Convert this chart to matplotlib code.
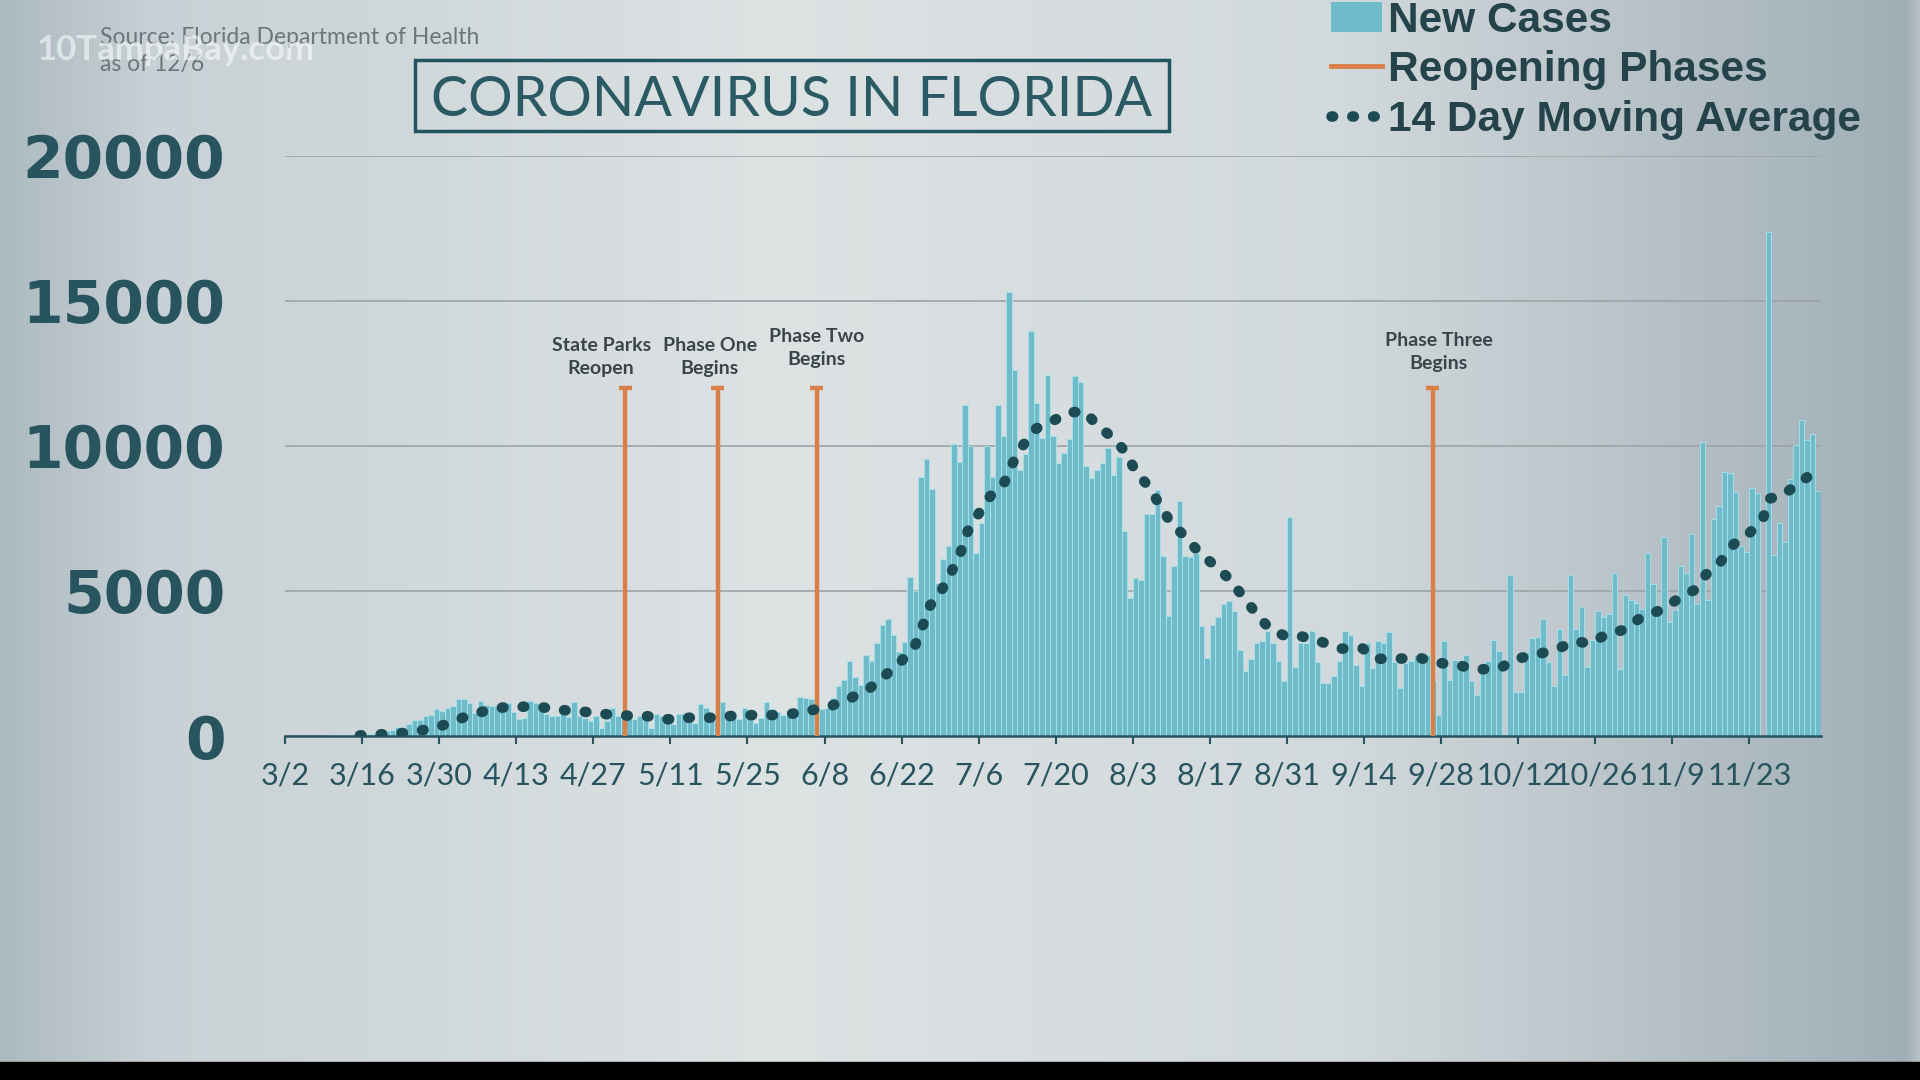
import numpy as np
import matplotlib
matplotlib.use("Agg")
import matplotlib.pyplot as plt
from matplotlib.lines import Line2D
from matplotlib.patches import Patch, Rectangle

# daily new cases, one bar per day, first bar sits at the 3/2 tick
new_cases = [
    0, 0, 2, 3, 5, 15, 10, 20, 25, 30, 40, 45, 50, 60, 40, 60, 80, 115, 160, 195,
    310, 250, 425, 560, 540, 690, 740, 940, 860, 970, 1050, 1290, 1290, 1140, 790, 1200, 1060, 1040, 1020, 1120,
    1120, 830, 580, 620, 1200, 1150, 900, 760, 700, 690, 750, 650, 1170, 690, 630, 520, 690, 290, 520, 980,
    690, 570, 570, 570, 690, 750, 290, 750, 690, 520, 430, 750, 750, 750, 460, 1110, 980, 570, 520, 1170,
    800, 750, 570, 950, 860, 460, 610, 1170, 920, 840, 720, 690, 920, 1360, 1320, 1260, 1210, 920, 980, 1320,
    1710, 1920, 2580, 2035, 1770, 2790, 2580, 3220, 3830, 4040, 3480, 2900, 3240, 5490, 5000, 8940, 9550, 8520, 5260, 6100,
    6560, 10070, 9440, 11410, 9990, 6300, 7330, 9990, 8920, 11410, 10340, 15300, 12620, 9180, 9730, 13940, 11460, 10280, 12440, 10340,
    9410, 9760, 10220, 12390, 12180, 9300, 8890, 9180, 9410, 9910, 8980, 9620, 7080, 4760, 5430, 5370, 7640, 7640, 8460, 6190,
    4150, 5840, 8110, 6190, 6150, 6300, 3780, 2700, 3830, 4090, 4560, 4650, 4290, 2950, 2230, 2640, 3220, 3260, 3630, 3200,
    2580, 1880, 7550, 2370, 3220, 3200, 3630, 2550, 1830, 1830, 2080, 2580, 3610, 3480, 2430, 1710, 3220, 2330, 3260, 3200,
    3570, 2550, 1650, 2500, 2600, 2790, 2810, 2790, 1900, 720, 3270, 1920, 2630, 2590, 2800, 1880, 1400, 2440, 2590, 3320,
    2920, 0, 5540, 1520, 1520, 2900, 3360, 3410, 4020, 2550, 1720, 3680, 2110, 5540, 3670, 4450, 2380, 3300, 4300, 4100,
    4190, 5600, 2320, 4870, 4680, 4590, 4390, 6290, 5230, 4270, 6870, 3930, 4350, 5860, 5600, 6960, 4560, 10130, 4680, 7470,
    7930, 9090, 9070, 8400, 6550, 6330, 8530, 8380, 0, 17360, 6250, 7340, 6680, 8850, 10040, 10870, 10190, 10420, 8440,
]

tick_labels = ["3/2", "3/16", "3/30", "4/13", "4/27", "5/11", "5/25", "6/8", "6/22", "7/6",
               "7/20", "8/3", "8/17", "8/31", "9/14", "9/28", "10/12", "10/26", "11/9", "11/23"]

# 14 day moving average (day position, value)
ma_day = [13.6, 17.6, 21.3, 25.0, 28.7, 32.3, 35.9, 39.5, 43.3, 47.0,
          50.9, 54.6, 58.4, 62.3, 65.9, 69.6, 73.4, 77.2, 81.0, 84.7,
          88.5, 92.2, 96.0, 99.5, 103.0, 106.3, 109.2, 112.0, 114.5, 115.9,
          117.2, 119.4, 121.2, 122.8, 124.0, 126.0, 128.1, 130.7, 132.2, 134.1,
          136.5, 139.3, 142.4, 145.3, 147.5, 150.4, 152.8, 154.5, 157.0, 158.9,
          160.9, 163.5, 166.0, 168.9, 171.6, 173.9, 176.2, 178.7, 181.8, 184.7,
          188.3, 191.9, 195.7, 198.3, 202.1, 205.9, 209.6, 213.2, 216.9, 220.7,
          223.7, 227.5, 231.2, 234.3, 237.0, 240.4, 243.4, 246.3, 249.8, 252.7,
          256.0, 258.1, 260.8, 263.1, 265.9, 268.5, 269.4, 271.9, 274.9, 278.0]
ma_val = [20, 60, 100, 200, 370, 630, 840, 980, 1010, 980,
          885, 830, 750, 700, 680, 575, 630, 630, 690, 720,
          720, 770, 900, 1060, 1330, 1660, 2120, 2590, 3150, 3830,
          4500, 5070, 5710, 6370, 7050, 7660, 8260, 8750, 9410, 10030,
          10600, 10840, 11150, 11180, 10710, 10270, 9760, 9110, 8570, 7950,
          7350, 6870, 6330, 5870, 5400, 4830, 4270, 3720, 3430, 3430,
          3240, 3010, 3020, 2660, 2660, 2700, 2520, 2430, 2290, 2340,
          2660, 2810, 3010, 3260, 3190, 3540, 3660, 4090, 4330, 4680,
          5030, 5560, 6010, 6600, 6970, 7500, 8170, 8280, 8700, 9120]

phase_names = ["State Parks\nReopen", "Phase One\nBegins", "Phase Two\nBegins", "Phase Three\nBegins"]
phase_day = [61.8, 78.6, 96.6, 208.5]
phase_top = 12000

# colours
BAR = "#6fbbc9"
BAR_EDGE = "#a9e3ec"
ORANGE = "#d9804a"
DOT = "#1d4b54"
TEAL = "#27545f"

fig = plt.figure(figsize=(19.2, 10.8), dpi=100)

# background: soft horizontal grey gradient + black strip at the bottom
bg = fig.add_axes([0, 0, 1, 1], zorder=-10)
stops = [0.0, 0.08, 0.4, 0.7, 0.95, 0.993, 1.0]
cols = np.array([(172, 186, 192), (200, 209, 213), (221, 226, 227), (210, 217, 220),
                 (168, 181, 188), (160, 174, 181), (182, 193, 198)]) / 255.0
xs = np.linspace(0, 1, 960)
row = np.stack([np.interp(xs, stops, cols[:, k]) for k in range(3)], axis=-1)
grad = np.repeat(row[None, :, :], 2, axis=0)
bg.imshow(grad, aspect="auto", extent=[0, 1, 0, 1])
bg.add_patch(Rectangle((0, 0), 1, 18 / 1080, color="black"))
bg.set_xlim(0, 1)
bg.set_ylim(0, 1)
bg.axis("off")

ax = fig.add_axes([285 / 1920, 1 - 736 / 1080, 1536 / 1920, 580.5 / 1080])
ax.patch.set_alpha(0)

days = np.arange(len(new_cases))
ax.bar(days + 0.5, new_cases, width=1.0, color=BAR, edgecolor=BAR_EDGE,
       linewidth=0.6, zorder=2)

ax.vlines(phase_day, 0, phase_top, color=ORANGE, lw=3.2, zorder=3)
ax.hlines([phase_top] * len(phase_day), np.array(phase_day) - 1.2,
          np.array(phase_day) + 1.2, color=ORANGE, lw=3.2, zorder=3)

label_shift = [(-24, 31), (-8, 31), (0, 40), (6, 36)]
for name, d, (dx, dy) in zip(phase_names, phase_day, label_shift):
    ax.annotate(name, (d, phase_top), xytext=(dx * 0.72, dy * 0.72),
                textcoords="offset points", ha="center", va="center",
                fontsize=14, fontweight="bold", family="Lato", color="#3b4549",
                linespacing=1.45)

# dotted moving average: round dots ~10 px wide, ~20 px apart
dots = (0, (0.15, 1.82))
ax.plot(ma_day, ma_val, color=DOT, lw=7.6, linestyle=dots,
        dash_capstyle="round", zorder=4)

ax.set_xlim(0, len(new_cases))
ax.set_ylim(0, 20000)
ax.set_yticks([0, 5000, 10000, 15000, 20000])
ax.set_yticklabels(["0", "5000", "10000", "15000", "20000"],
                   fontsize=42, fontweight="bold", family="DejaVu Sans", color=TEAL)
ax.tick_params(axis="y", length=0, pad=43)
ax.set_xticks(np.arange(0, len(tick_labels) * 14, 14))
ax.set_xticklabels(tick_labels, fontsize=22, family="Lato", color=TEAL)
ax.tick_params(axis="x", length=6, width=1.5, color=TEAL, pad=12)
ax.yaxis.grid(True, color="#9ba4a7", lw=1.2)
ax.set_axisbelow(True)
for side in ["top", "right", "left"]:
    ax.spines[side].set_visible(False)
ax.spines["bottom"].set_color(TEAL)
ax.spines["bottom"].set_linewidth(1.8)

# legend
handles = [Patch(facecolor=BAR, edgecolor="none"),
           Line2D([], [], color=ORANGE, lw=3.5),
           Line2D([], [], color=DOT, lw=7.6, linestyle=dots, dash_capstyle="round")]
fig.legend(handles, ["New Cases", "Reopening Phases", "14 Day Moving Average"],
           loc="upper left", bbox_to_anchor=(1331 / 1920, 1 - 1 / 1080),
           frameon=False, borderpad=0, borderaxespad=0, handlelength=1.2,
           handleheight=0.7, handletextpad=0.15, labelspacing=0.22,
           prop={"family": "Liberation Sans", "weight": "bold", "size": 30.5},
           labelcolor="#24434a")

# title box
fig.add_artist(Rectangle((415 / 1920, 1 - 131 / 1080), 754 / 1920, 71 / 1080,
                         transform=fig.transFigure, fill=False, ec="#1f5560", lw=2.5))
fig.text(792 / 1920, 1 - 100 / 1080, "CORONAVIRUS IN FLORIDA", ha="center", va="center",
         fontsize=40, family="Lato", color="#2a5a64")

fig.text(100 / 1920, 1 - 37 / 1080, "Source: Florida Department of Health", ha="left",
         va="center", fontsize=16.5, family="Lato", color="#6b787b")
fig.text(100 / 1920, 1 - 65 / 1080, "as of 12/6", ha="left", va="center",
         fontsize=16.5, family="Lato", color="#6b787b")
fig.text(37 / 1920, 1 - 50 / 1080, "10TampaBay.com", ha="left", va="center",
         fontsize=25, fontweight="bold", family="Lato", color="white", alpha=0.55)

fig.savefig("out.png", dpi=100)
